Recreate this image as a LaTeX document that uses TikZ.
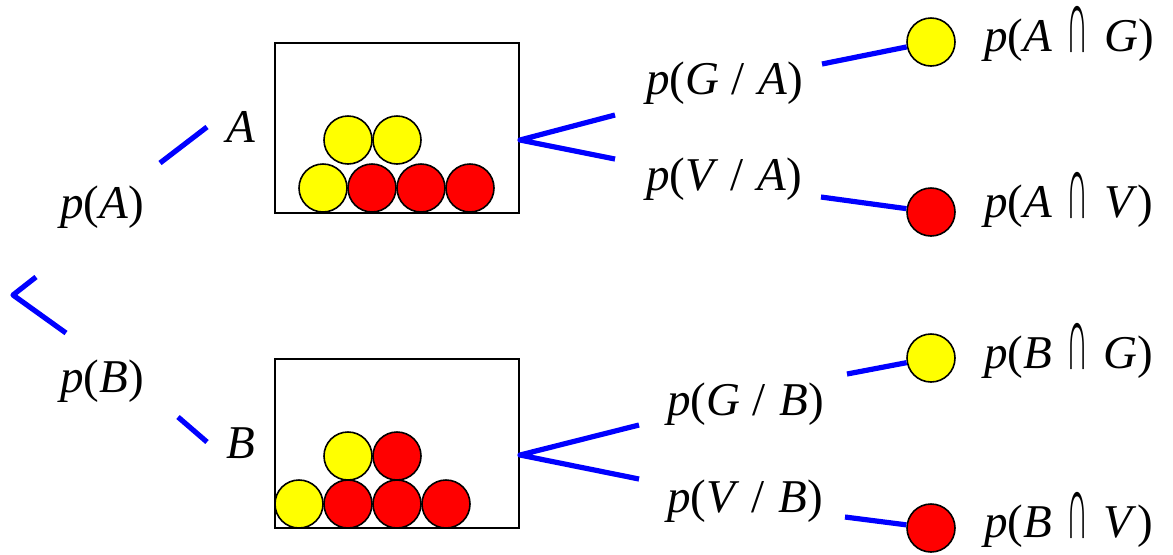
\documentclass[tikz,border=0pt]{standalone}
\usepackage{fontspec}
\setmainfont{Liberation Serif}
\newcommand\capsym{\raisebox{-0.03em}{\scalebox{0.65}[1.95]{∩}}}
\newcommand\iv[1]{\textit{#1}}
\definecolor{lineblue}{RGB}{0,0,255}
\definecolor{ballyellow}{RGB}{255,255,0}
\definecolor{ballred}{RGB}{255,0,0}
\tikzset{
  branch/.style={draw=lineblue, line width=2.6pt, line join=round},
  urn/.style={draw=black, line width=1pt},
  ball/.style={circle, draw=black, line width=0.8pt, minimum size=24pt, inner sep=0pt},
  yball/.style={ball, fill=ballyellow},
  rball/.style={ball, fill=ballred},
  lbl/.style={anchor=base west, inner sep=0pt, font=\fontsize{23.5}{28}\selectfont},
}
\begin{document}
\begin{tikzpicture}[x=0.5pt, y=-0.5pt]
\useasboundingbox (0,0) rectangle (1173,554);

% labels
\node[lbl] (pA) at (60,218) {\iv{p}(\iv{A})};
\node[lbl] (pB) at (60,392) {\iv{p}(\iv{B})};
\node[lbl] (lA) at (226,142) {\iv{A}};
\node[lbl] (lB) at (226,458) {\iv{B}};
\node[lbl] (pGA) at (646,94) {\iv{p}(\iv{G}\hspace{0.25em}/\hspace{0.3em}\iv{A})};
\node[lbl] (pVA) at (646,190) {\iv{p}(\iv{V}\hspace{0.25em}/\hspace{0.3em}\iv{A})};
\node[lbl] (pGB) at (667,415) {\iv{p}(\iv{G}\hspace{0.25em}/\hspace{0.3em}\iv{B})};
\node[lbl] (pVB) at (667,512) {\iv{p}(\iv{V}\hspace{0.25em}/\hspace{0.3em}\iv{B})};
\node[lbl] (pAG) at (984,51) {\iv{p}(\iv{A}\hspace{0.3em}\capsym\hspace{0.33em}\iv{G})};
\node[lbl] (pAV) at (984,217) {\iv{p}(\iv{A}\hspace{0.3em}\capsym\hspace{0.33em}\iv{V})};
\node[lbl] (pBG) at (984,368) {\iv{p}(\iv{B}\hspace{0.3em}\capsym\hspace{0.33em}\iv{G})};
\node[lbl] (pBV) at (984,537) {\iv{p}(\iv{B}\hspace{0.3em}\capsym\hspace{0.33em}\iv{V})};

% urns
\draw[urn] (275,43) rectangle (519,213);
\draw[urn] (275,359) rectangle (519,528);
\node[yball] (a1) at (323,188) {};
\node[rball] (a2) at (372,188) {};
\node[rball] (a3) at (421,188) {};
\node[rball] (a4) at (470,188) {};
\node[yball] (a5) at (348,140) {};
\node[yball] (a6) at (397,140) {};
\node[yball] (b1) at (299,504) {};
\node[rball] (b2) at (348,504) {};
\node[rball] (b3) at (397,504) {};
\node[rball] (b4) at (446,504) {};
\node[yball] (b5) at (348,456) {};
\node[rball] (b6) at (397,456) {};

% outcome balls
\node[yball] (oAG) at (931,42) {};
\node[rball] (oAV) at (931,212) {};
\node[yball] (oBG) at (931,358) {};
\node[rball] (oBV) at (931,528) {};

% branch coordinates
\coordinate (root) at (13,295);
\coordinate (r1) at (36,277);
\coordinate (r2) at (66,333);
\coordinate (u1) at (160,163);
\coordinate (u2) at (207,127);
\coordinate (v1) at (178,417);
\coordinate (v2) at (207,442);
\coordinate (fa) at (520,140);
\coordinate (fa1) at (615,115);
\coordinate (fa2) at (615,159);
\coordinate (fb) at (520,455);
\coordinate (fb1) at (639,425);
\coordinate (fb2) at (639,479);
\coordinate (ga) at (822,64);
\coordinate (ha) at (821,197);
\coordinate (gb) at (847,374);
\coordinate (hb) at (845,517);

\draw[branch] (r1) -- (root) -- (r2);
\draw[branch] (u1) -- (u2);
\draw[branch] (v1) -- (v2);
\draw[branch] (fa1) -- (fa) -- (fa2);
\draw[branch] (fb1) -- (fb) -- (fb2);
\draw[branch] (ga) -- (oAG);
\draw[branch] (ha) -- (oAV);
\draw[branch] (gb) -- (oBG);
\draw[branch] (hb) -- (oBV);
\end{tikzpicture}
\end{document}
